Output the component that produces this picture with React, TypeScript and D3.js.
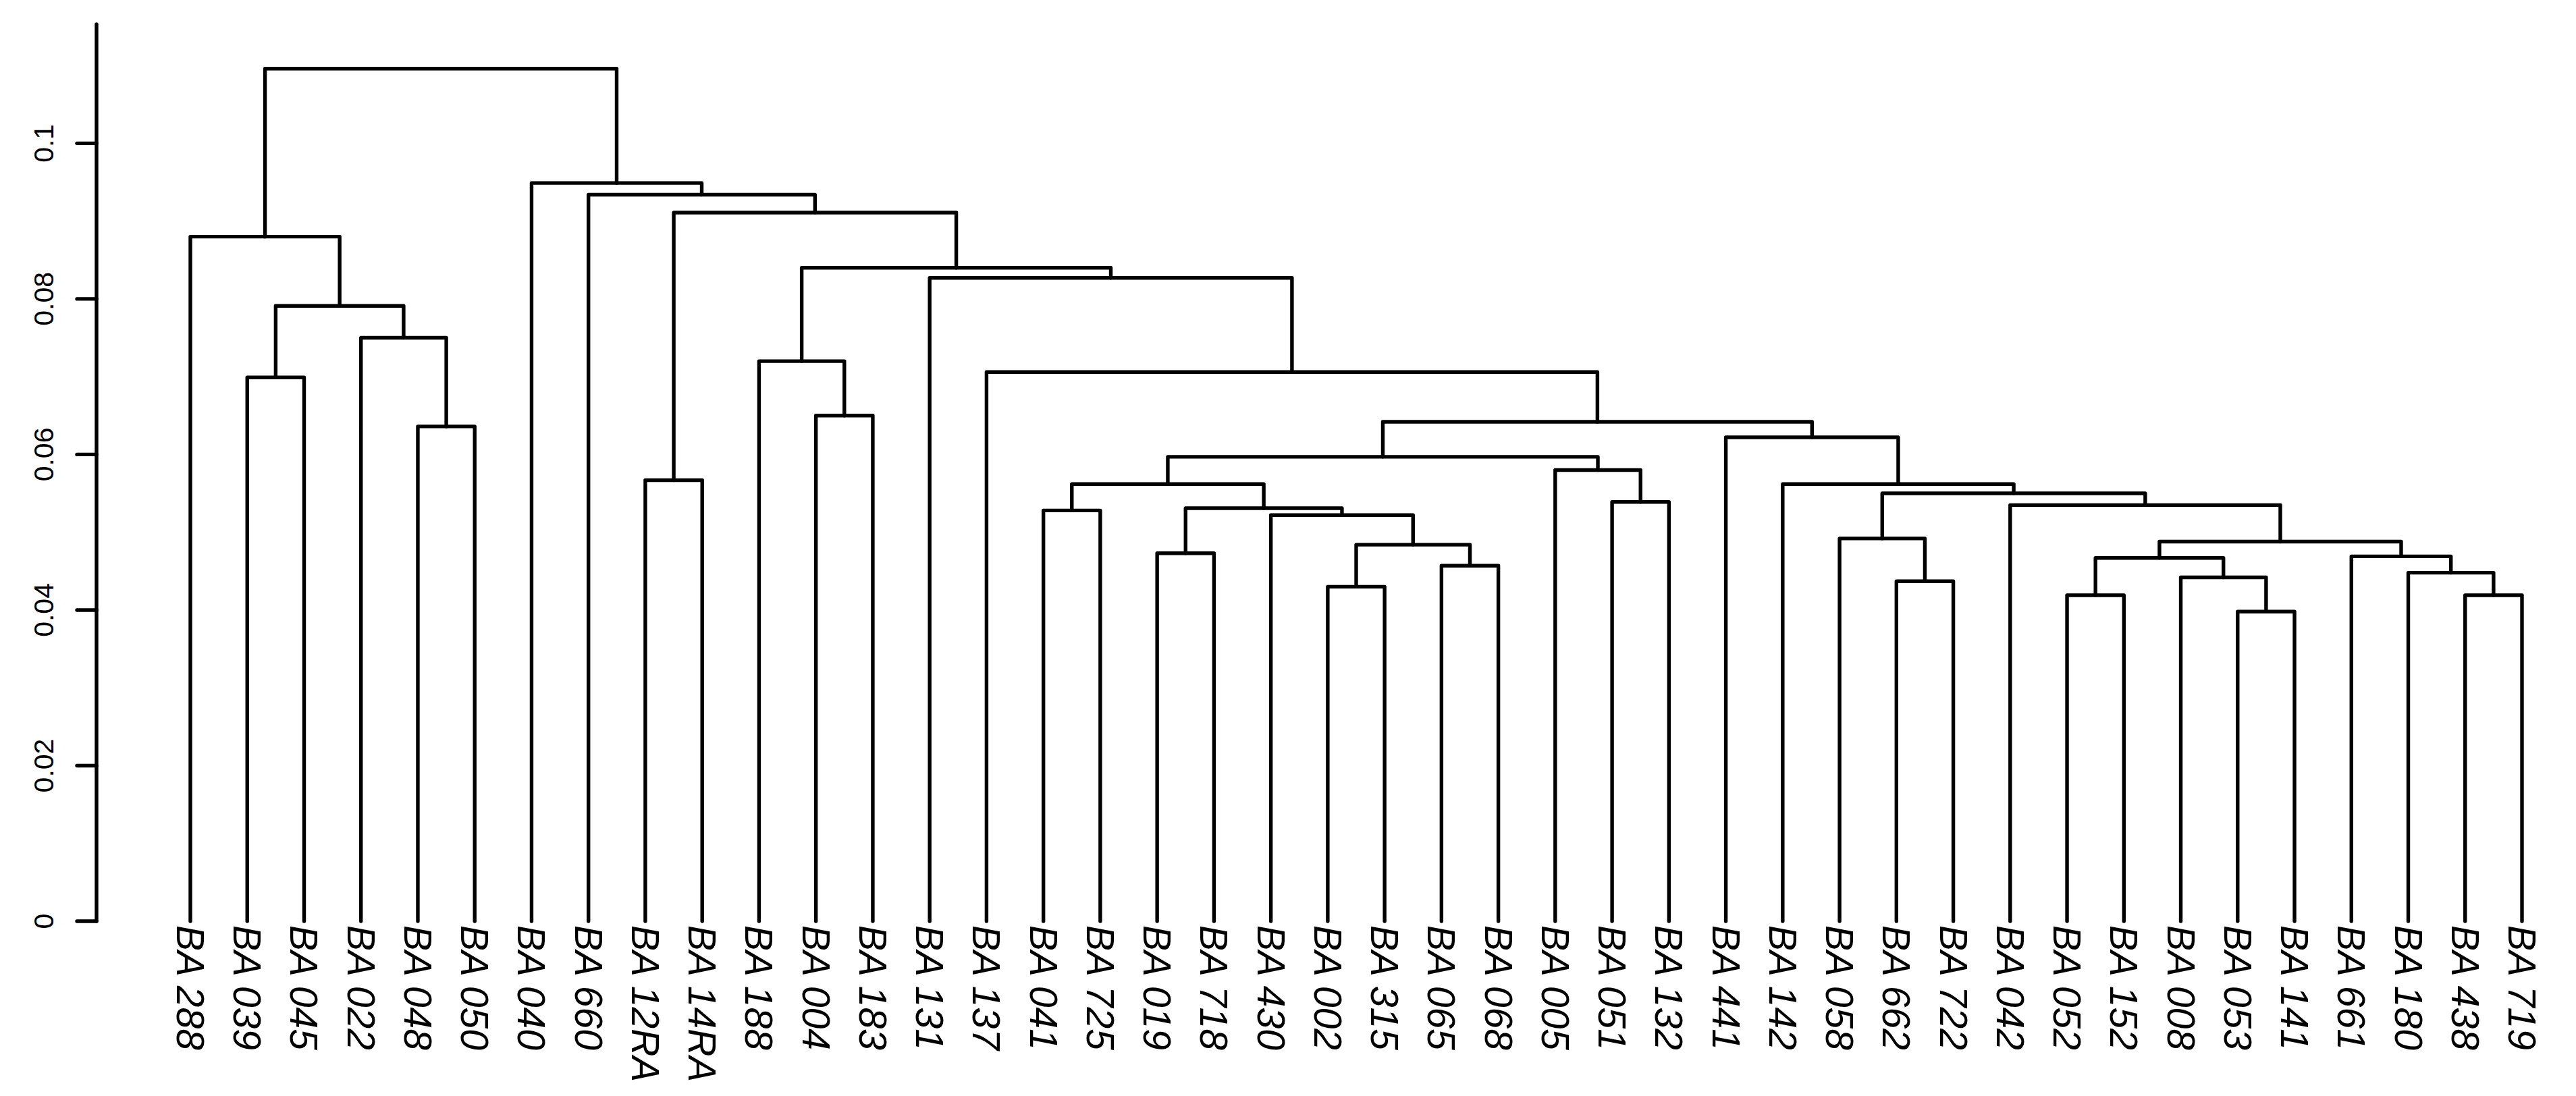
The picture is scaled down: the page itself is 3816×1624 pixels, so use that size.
import React from "react";
import * as d3 from "d3";

const W = 3816;
const H = 1624;

// Leaf labels in display order (left to right)
const leafLabels = [
  "BA 288", "BA 039", "BA 045", "BA 022", "BA 048", "BA 050", "BA 040", "BA 660",
  "BA 12RA", "BA 14RA", "BA 188", "BA 004", "BA 183", "BA 131", "BA 137", "BA 041",
  "BA 725", "BA 019", "BA 718", "BA 430", "BA 002", "BA 315", "BA 065", "BA 068",
  "BA 005", "BA 051", "BA 132", "BA 441", "BA 142", "BA 058", "BA 662", "BA 722",
  "BA 042", "BA 052", "BA 152", "BA 008", "BA 053", "BA 141", "BA 661", "BA 180",
  "BA 438", "BA 719",
];

// Merge matrix (R hclust style): negative = leaf (1-based display position), positive = earlier merge (1-based)
const mergeA = [
  -37, -34, -41, -21, -31, -36, -40, -23, 2, -39,
  -18, 4, 9, -30, -20, -16, 11, -33, -26, 14,
  16, -29, -9, -25, 21, -28, -5, 25, -12, -2,
  -15, -11, -4, 30, -14, 32, -1, 23, -8, -7,
  37,
];
const mergeB = [
  -38, -35, -42, -22, -32, 1, 3, -24, 6, 7,
  -19, 8, 10, 5, 12, -17, 15, 13, -27, 18,
  17, 20, -10, 19, 24, 22, -6, 26, -13, -3,
  28, 29, 27, 33, 31, 35, 34, 36, 38, 39,
  40,
];
const mergeHeight = [
  0.0398, 0.0419, 0.0419, 0.0430, 0.0437, 0.0442, 0.0448, 0.0457, 0.0467, 0.0469,
  0.0473, 0.0484, 0.0488, 0.0492, 0.0522, 0.0528, 0.0531, 0.0535, 0.0539, 0.0550,
  0.0562, 0.0562, 0.0567, 0.0580, 0.0597, 0.0622, 0.0636, 0.0642, 0.0650, 0.0699,
  0.0706, 0.0720, 0.0750, 0.0791, 0.0827, 0.0840, 0.0880, 0.0911, 0.0934, 0.0949,
  0.1096,
];

const yTicks = [0, 0.02, 0.04, 0.06, 0.08, 0.1];
const yAxisMax = 0.1153;

export default function App() {
  const x = d3.scaleLinear().domain([1, leafLabels.length]).range([282, 3736]);
  const y = d3.scaleLinear().domain([0, yAxisMax]).range([1365, 36]);

  const nodeX: number[] = [];
  const nodeH: number[] = [];
  const childX = (c: number) => (c < 0 ? x(-c) : nodeX[c - 1]);
  const childH = (c: number) => (c < 0 ? 0 : nodeH[c - 1]);

  const paths: string[] = [];
  mergeA.forEach((a, i) => {
    const b = mergeB[i];
    const h = mergeHeight[i];
    const xa = childX(a);
    const xb = childX(b);
    const ha = childH(a);
    const hb = childH(b);
    nodeX.push((xa + xb) / 2);
    nodeH.push(h);
    const p = d3.path();
    p.moveTo(xa, y(ha));
    p.lineTo(xa, y(h));
    p.lineTo(xb, y(h));
    p.lineTo(xb, y(hb));
    paths.push(p.toString());
  });

  const axisX = 143;
  const lw = 5.4;

  return (
    <svg
      width={W}
      height={H}
      viewBox={`0 0 ${W} ${H}`}
      style={{ position: "absolute", left: 0, top: 0, background: "#fff" }}
      fontFamily="'Liberation Sans', Arial, Helvetica, sans-serif"
    >
      <rect x={0} y={0} width={W} height={H} fill="#fff" />
      {/* dendrogram */}
      <g fill="none" stroke="#000" strokeWidth={lw} strokeLinecap="round" strokeLinejoin="round">
        {paths.map((d, i) => (
          <path key={i} d={d} />
        ))}
      </g>
      {/* y axis */}
      <g stroke="#000" strokeWidth={lw} strokeLinecap="round">
        <line x1={axisX} x2={axisX} y1={y(0)} y2={y(yAxisMax)} />
        {yTicks.map((t) => (
          <line key={t} x1={axisX - 29} x2={axisX} y1={y(t)} y2={y(t)} />
        ))}
      </g>
      <g fontSize={41} fill="#000">
        {yTicks.map((t) => (
          <text
            key={t}
            x={65}
            y={y(t)}
            textAnchor="middle"
            dominantBaseline="central"
            transform={`rotate(-90, 65, ${y(t)})`}
          >
            {String(t)}
          </text>
        ))}
      </g>
      {/* leaf labels */}
      <g fontSize={57} fontStyle="italic" fill="#000">
        {leafLabels.map((lab, i) => {
          const lx = x(i + 1);
          const ly = 1371;
          return (
            <text
              key={lab}
              x={lx}
              y={ly}
              textAnchor="start"
              dominantBaseline="central"
              transform={`rotate(90, ${lx}, ${ly})`}
            >
              {lab}
            </text>
          );
        })}
      </g>
    </svg>
  );
}
